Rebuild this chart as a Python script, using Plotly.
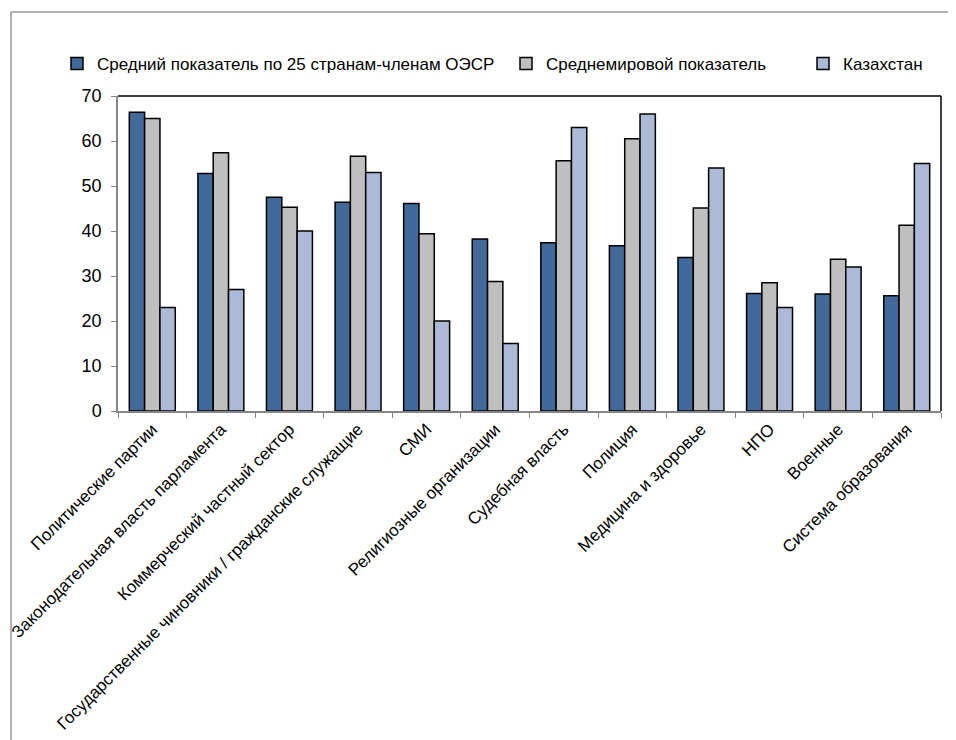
import plotly.graph_objects as go

categories = [
    "Политические партии",
    "Законодательная власть парламента",
    "Коммерческий частный сектор",
    "Государственные чиновники / гражданские служащие",
    "СМИ",
    "Религиозные организации",
    "Судебная власть",
    "Полиция",
    "Медицина и здоровье",
    "НПО",
    "Военные",
    "Система образования",
]
series_names = [
    "Средний показатель по 25 странам-членам ОЭСР",
    "Среднемировой показатель",
    "Казахстан",
]
oecd = [66.4, 52.8, 47.5, 46.4, 46.1, 38.2, 37.4, 36.7, 34.1, 26.1, 26.0, 25.6]
world = [65.0, 57.4, 45.3, 56.6, 39.4, 28.8, 55.6, 60.5, 45.1, 28.5, 33.7, 41.3]
kazakhstan = [23, 27, 40, 53, 20, 15, 63, 66, 54, 23, 32, 55]
y_ticks = [0, 10, 20, 30, 40, 50, 60, 70]

colors = ["#41699A", "#BFBFBF", "#AABAD7"]
values = [oecd, world, kazakhstan]
legend_widths = [404, 252, 90]

# page body has an 8px margin, so figure coords = page coords - 8
W, H = 948, 732
L, R, T, B = 110, 15, 88, 329
pw, ph = W - L - R, H - T - B

fig = go.Figure()
for name, vals, col, lw in zip(series_names, values, colors, legend_widths):
    fig.add_trace(go.Bar(
        x=categories, y=vals, name=name,
        marker=dict(color=col, line=dict(color="black", width=1.5)),
        legendwidth=lw,
    ))

font = "Liberation Sans, Arial, sans-serif"
axis_gray = "#868686"


def px_x(p):
    return (p - L) / pw


def px_y(p):
    return (H - B - p) / ph


fig.update_layout(
    width=W, height=H,
    margin=dict(l=L, r=R, t=T, b=B, pad=0, autoexpand=False),
    paper_bgcolor="white", plot_bgcolor="white",
    barmode="group", bargap=0.33, bargroupgap=0,
    font=dict(family=font, size=17, color="black"),
    showlegend=True,
    legend=dict(
        orientation="h", x=px_x(49), y=px_y(38), xanchor="left", yanchor="top",
        font=dict(family=font, size=17, color="black"),
        itemwidth=30, traceorder="normal",
        bgcolor="rgba(0,0,0,0)",
    ),
    xaxis=dict(
        showline=True, linecolor=axis_gray, linewidth=1.5,
        ticks="outside", tickson="boundaries", ticklen=5, tickcolor=axis_gray,
        tickangle=-45, tickfont=dict(family=font, size=17, color="black"),
        showgrid=False, zeroline=False, automargin=False,
    ),
    yaxis=dict(
        range=[0, 70], tickvals=y_ticks,
        showline=True, linecolor=axis_gray, linewidth=1.5,
        ticks="outside", ticklen=5, tickcolor=axis_gray,
        ticklabelstandoff=6,
        tickfont=dict(family=font, size=18, color="black"),
        showgrid=False, zeroline=False, automargin=False,
    ),
    shapes=[
        # plot area top and right borders
        dict(type="line", xref="paper", yref="paper", x0=0, x1=1, y0=1, y1=1,
             line=dict(color="black", width=1.5)),
        dict(type="line", xref="paper", yref="paper", x0=1, x1=1, y0=0, y1=1,
             line=dict(color="black", width=1.5)),
        # outer chart border (left and top)
        dict(type="line", xref="paper", yref="paper",
             x0=px_x(3), x1=px_x(3), y0=px_y(740), y1=px_y(4),
             line=dict(color="#9A9A9A", width=1.5)),
        dict(type="line", xref="paper", yref="paper",
             x0=px_x(3), x1=px_x(960), y0=px_y(4), y1=px_y(4),
             line=dict(color="#9A9A9A", width=1.5)),
    ],
)

fig.write_html("out.html")
